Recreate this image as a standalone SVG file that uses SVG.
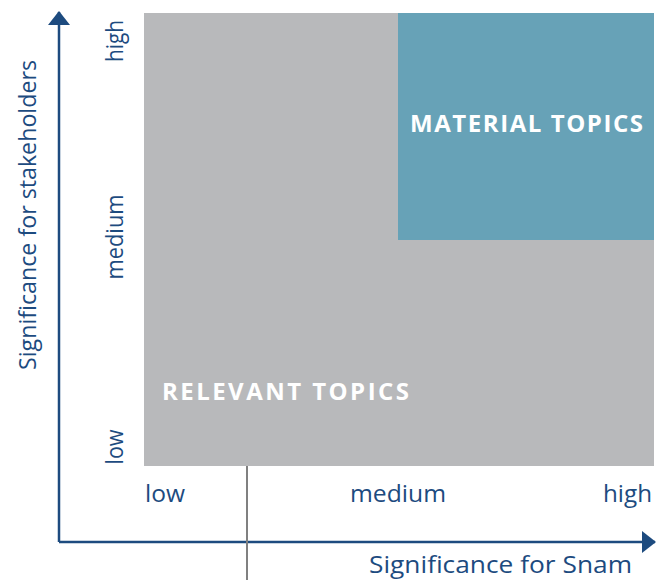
<svg xmlns="http://www.w3.org/2000/svg" width="656" height="580" viewBox="0 0 656 580">
<style>
.lbl{font-family:"Open Sans","Liberation Sans",sans-serif;font-size:24px;fill:#1d4b7f}
.ttl{font-family:"Open Sans","Liberation Sans",sans-serif;font-size:23.5px;fill:#1d4b7f}
.zone{font-family:"Open Sans","Liberation Sans",sans-serif;font-size:24px;font-weight:bold;fill:#ffffff}
.axis{stroke:#1d4b7f;stroke-width:2.5;fill:none}
</style>
<defs>
<marker id="ah" viewBox="0 0 14 22" refX="13" refY="11" markerWidth="14" markerHeight="22" markerUnits="userSpaceOnUse" orient="auto">
<path d="M0,0 L14,11 L0,22 Z" fill="#1d4b7f"/>
</marker>
</defs>
<rect width="656" height="580" fill="#ffffff"/>
<g id="relevant">
<rect x="144" y="13" width="510" height="453" fill="#b8b9bb"/>
<text class="zone" x="162" y="400" textLength="247" lengthAdjust="spacing">RELEVANT TOPICS</text>
</g>
<g id="material">
<rect x="398" y="13" width="256" height="227" fill="#67a2b7"/>
<text class="zone" x="410" y="132" textLength="233" lengthAdjust="spacing">MATERIAL TOPICS</text>
</g>
<g id="connectors">
<path class="axis" d="M59,542 V12" marker-end="url(#ah)"/>
<path class="axis" d="M59,542 H655" marker-end="url(#ah)"/>
<line x1="247" y1="466" x2="247" y2="580" stroke="#808080" stroke-width="2"/>
</g>
<g id="labels">
<text class="ttl" transform="translate(36,215) rotate(-90)" text-anchor="middle" textLength="310" lengthAdjust="spacingAndGlyphs">Significance for stakeholders</text>
<text class="lbl" transform="translate(123,41) rotate(-90)" text-anchor="middle" textLength="42" lengthAdjust="spacingAndGlyphs">high</text>
<text class="lbl" transform="translate(123,237) rotate(-90)" text-anchor="middle" textLength="85" lengthAdjust="spacingAndGlyphs">medium</text>
<text class="lbl" transform="translate(123,447) rotate(-90)" text-anchor="middle" textLength="35" lengthAdjust="spacingAndGlyphs">low</text>
<text class="lbl" x="145" y="502" textLength="40" lengthAdjust="spacingAndGlyphs">low</text>
<text class="lbl" x="350" y="502" textLength="96" lengthAdjust="spacingAndGlyphs">medium</text>
<text class="lbl" x="603" y="502" textLength="49" lengthAdjust="spacingAndGlyphs">high</text>
<text class="ttl" x="369" y="573" textLength="263" lengthAdjust="spacingAndGlyphs">Significance for Snam</text>
</g>
</svg>
